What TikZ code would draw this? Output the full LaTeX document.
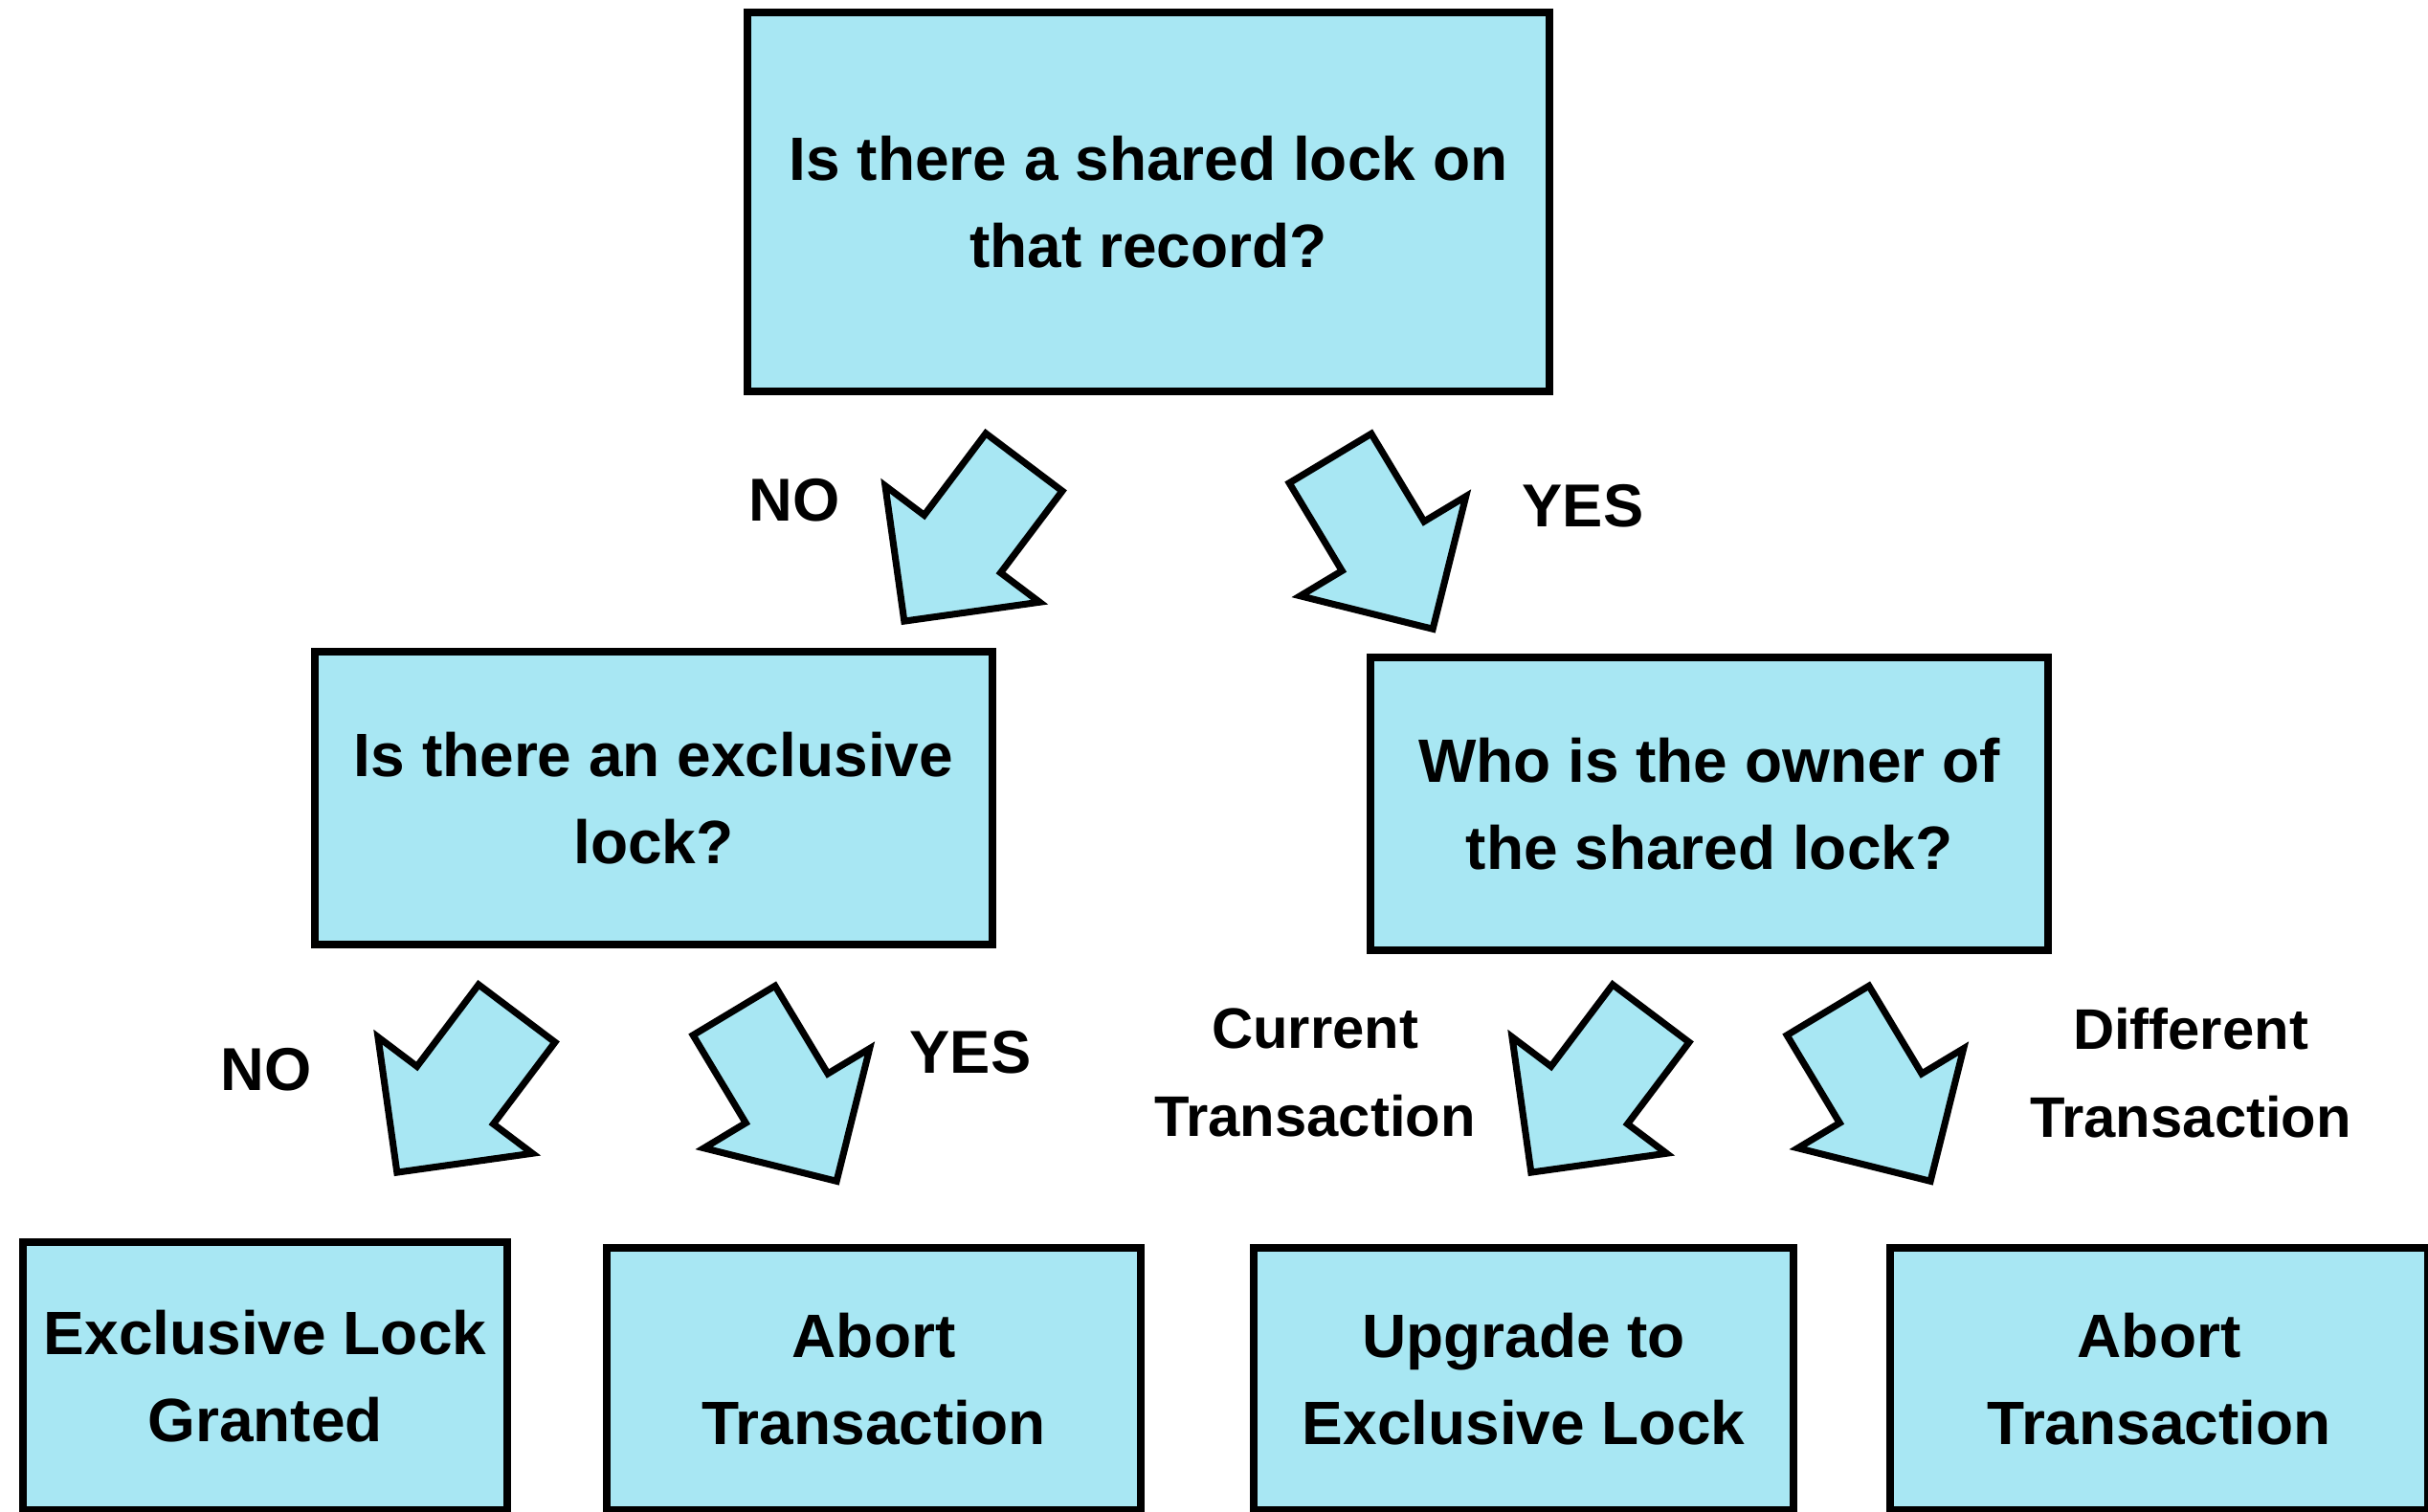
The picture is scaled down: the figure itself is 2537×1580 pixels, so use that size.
\documentclass[tikz,border=0pt]{standalone}
\usepackage{fontspec}
\setmainfont{Liberation Sans}
\usepackage{xcolor}
\usetikzlibrary{positioning,calc}

\definecolor{lockcyan}{RGB}{168,231,243}

\tikzset{pics/blockarrow/.style={code={
	\draw[arrow body] (0,-50) -- (107,-50) -- (107,-101) -- (208,0)
		-- (107,101) -- (107,50) -- (0,50) -- cycle;}}}

\begin{document}
\begin{tikzpicture}[x=0.01cm,y=-0.01cm,
			box node/.style={draw, line width=2.3pt, fill=lockcyan, align=center, inner sep=0pt,
				font=\fontsize{18.2}{26}\selectfont\bfseries},
			tag node/.style={align=center, font=\fontsize{18}{26}\selectfont\bfseries},
			arrow body/.style={draw, line width=2pt, fill=lockcyan, line join=miter}]

			\useasboundingbox (0,0) rectangle (2537,1580);

			\node[box node,minimum width=8.38cm,minimum height=3.95cm] (1) at (1200,211)
				{Is there a shared lock on\\that record?};

			\node[box node,minimum width=7.07cm,minimum height=3.05cm] (2) at (683,834)
				{Is there an exclusive\\lock?};
			\node[box node,minimum width=7.07cm,minimum height=3.06cm] (3) at (1786,840)
				{Who is the owner of\\the shared lock?};

			\node[box node,minimum width=5.05cm,minimum height=2.80cm] (4) at (277,1438)
				{Exclusive Lock\\Granted};
			\node[box node,minimum width=5.58cm,minimum height=2.73cm] (5) at (913,1441)
				{Abort\\Transaction};
			\node[box node,minimum width=5.63cm,minimum height=2.73cm] (6) at (1592,1441)
				{Upgrade to\\Exclusive Lock};
			\node[box node,minimum width=5.61cm,minimum height=2.73cm] (7) at (2256,1441)
				{Abort\\Transaction};

			% arrow tails
			\coordinate (a1) at (1070,483);
			\coordinate (a2) at (1390,479);
			\coordinate (a3) at (540,1059);
			\coordinate (a4) at (767,1056);
			\coordinate (a5) at (1725,1059);
			\coordinate (a6) at (1910,1056);

			\pic[rotate=233] at (a1) {blockarrow};
			\pic[rotate=-59] at (a2) {blockarrow};
			\pic[rotate=233] at (a3) {blockarrow};
			\pic[rotate=-59] at (a4) {blockarrow};
			\pic[rotate=233] at (a5) {blockarrow};
			\pic[rotate=-59] at (a6) {blockarrow};

			\node[tag node] (n1) at (830,523) {NO};
			\node[tag node] (y1) at (1654,529) {YES};
			\node[tag node] (n2) at (278,1118) {NO};
			\node[tag node] (y2) at (1014,1100) {YES};
			\node[tag node,font=\fontsize{17}{26}\selectfont\bfseries] (c1) at (1374,1121) {Current\\Transaction};
			\node[tag node,font=\fontsize{17}{26}\selectfont\bfseries] (d1) at (2289,1121) {Different\\Transaction};

		\end{tikzpicture}
\end{document}
